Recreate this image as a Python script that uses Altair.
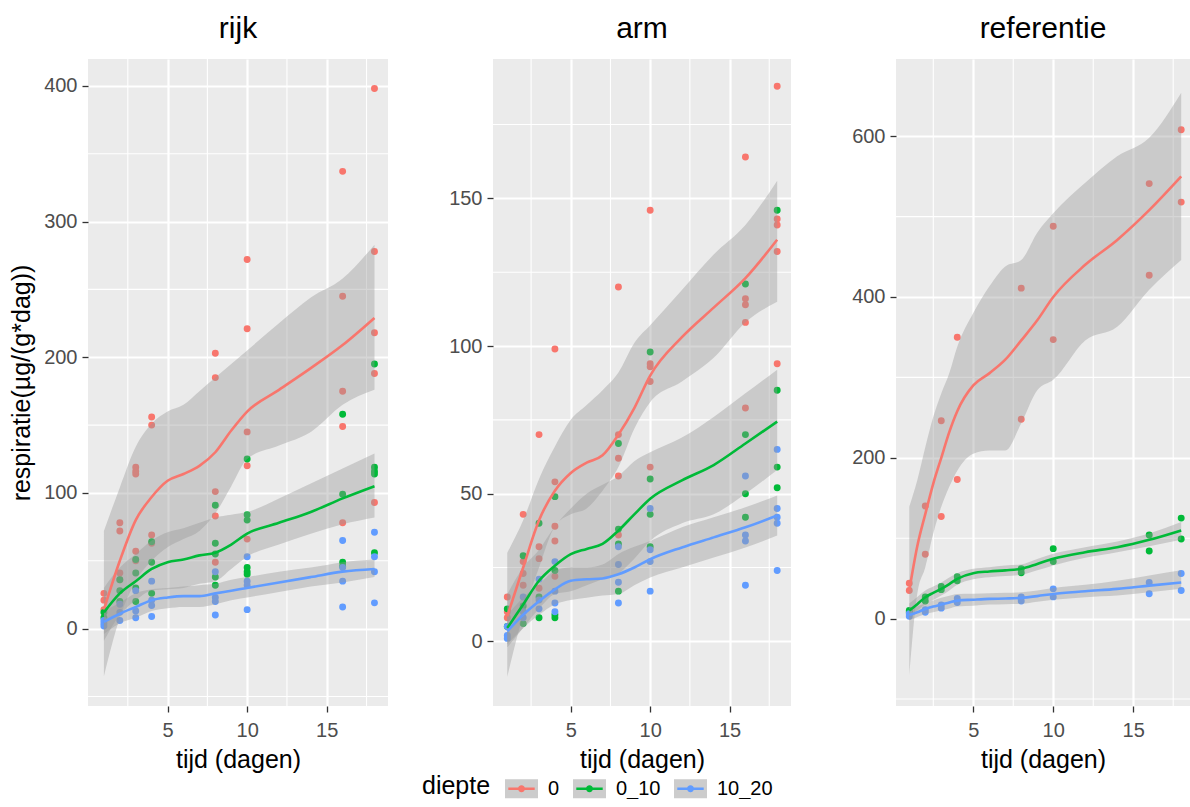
import altair as alt
import pandas as pd

FONT = "Liberation Sans"
TIMES = [1, 2, 3, 4, 8, 10, 16, 18]
DEPTHS = ["0", "0_10", "10_20"]
COLORS = ["#F8766D", "#00BA38", "#619CFF"]
X_TICKS = [5, 10, 15]
X_MINOR = [2.5, 7.5, 12.5, 17.5]

# ---- measured points (one list per time in TIMES) ----
RIJK_0 = [[26, 21, 14], [78, 72, 41, 36], [119, 116, 114, 57, 50], [156, 150, 69, 63],
          [203, 185, 101, 83, 49], [272, 221, 145, 120, 66], [337, 245, 175, 149, 78],
          [398, 278, 218, 188, 93]]
RIJK_0_10 = [[12, 8], [36, 28, 20], [51, 41, 30, 20], [64, 49, 26], [91, 63, 55, 38, 32],
             [125, 84, 80, 45, 42, 40], [158, 99, 49, 46], [195, 119, 116, 114, 56]]
RIJK_10_20 = [[6, 4, 2], [18, 12, 6], [28, 13, 8], [35, 21, 17, 9], [42, 23, 20, 10],
              [53, 35, 32, 14], [65, 45, 35, 16], [71, 53, 42, 19]]

ARM_0 = [[15, 10, 8], [43, 27, 23, 19], [70, 32, 28, 18], [99, 54, 39, 34, 22],
         [120, 70, 62, 56, 36], [146, 94, 93, 88, 59], [164, 116, 114, 108, 79],
         [188, 143, 141, 132, 94]]
ARM_0_10 = [[11, 5], [29, 12, 6], [40, 15, 8], [49, 24, 9, 8], [67, 38, 33, 17],
            [98, 55, 43, 32], [121, 70, 50, 42], [146, 85, 59, 52]]
ARM_10_20 = [[5, 2, 1], [15, 10, 8], [21, 14, 11], [27, 17, 13, 10], [32, 26, 20, 13],
             [45, 31, 27, 17], [56, 36, 34, 19], [65, 45, 42, 40, 24]]

REF_0 = [[44, 35], [140, 80], [246, 127], [350, 173], [411, 248], [488, 347], [541, 427], [608, 518]]
REF_0_10 = [[10, 8], [27, 22], [40, 36], [52, 47], [62, 57], [87, 71], [104, 84], [125, 99]]
REF_10_20 = [[6, 3], [11, 8], [17, 13], [25, 20], [27, 22], [37, 27], [45, 31], [56, 35]]

# ---- smoothed curves (fit, upper, lower) ----
GRID_A = [1, 2, 3, 4, 5, 6, 7, 8, 9, 10, 12, 14, 16, 18]
GRID_R = [1, 1.5, 2, 2.5, 3, 3.5, 4, 5, 6, 7, 8, 9, 10, 12, 14, 16, 18]

RIJK_FIT = [[14, 50, 80, 97, 109, 114, 120, 130, 146, 160, 176, 192, 209, 229],
            [12, 26, 35, 44, 49, 51, 54, 56, 62, 70, 78, 86, 96, 105],
            [5, 11, 16, 21, 23, 24, 24, 26, 28, 30, 34, 38, 42, 44]]
RIJK_HI = [[72, 104, 134, 151, 160, 165, 175, 185, 195, 205, 225, 244, 258, 283],
           [30, 45, 55, 65, 71, 74, 78, 82, 84, 86, 96, 107, 118, 129],
           [13, 19, 26, 29, 30, 31, 32, 33, 36, 38, 42, 45, 49, 51]]
RIJK_LO = [[-35, 8, 35, 50, 60, 66, 72, 85, 105, 125, 135, 145, 165, 176],
           [-9, 10, 21, 28, 29, 30, 33, 35, 44, 53, 62, 70, 77, 82],
           [-4, 4, 8, 13, 15, 16, 16, 18, 21, 23, 27, 31, 34, 38]]

ARM_FIT = [[8.5, 25, 41, 51, 57, 60.5, 63, 70, 79, 90, 103, 113, 123, 136],
           [4.5, 12.5, 20.5, 25.6, 29.5, 31.3, 33, 37.5, 43, 48.3, 54.5, 59.7, 67, 74.4],
           [3.4, 9, 13.6, 17.6, 20.5, 21, 21.3, 22.7, 25, 27.8, 31.8, 35.2, 38.6, 42.6]]
ARM_HI = [[30, 41, 55, 66, 75, 80, 85, 91, 101, 107, 119, 131, 141, 156],
          [16, 25, 31, 39, 45, 50, 53, 56, 61, 64, 69, 76, 84, 92],
          [9, 14.8, 19.3, 23.9, 25, 25, 26, 29.6, 32, 34, 38.6, 42, 45.4, 49.4]]
ARM_LO = [[-12, 9, 25, 39, 43, 45, 51, 59, 72, 81, 88, 96, 108, 115],
          [-2, 4.5, 11, 16, 17, 19, 21, 23, 28, 34, 40, 43, 50, 58],
          [-1, 4.5, 9, 12.5, 14, 14.8, 15.5, 16, 19, 21.6, 25, 28.4, 31.8, 35.8]]

REF_FIT = [[35, 90, 130, 168, 200, 232, 258, 290, 305, 322, 346, 371, 400, 440, 471, 508, 550],
           [10, 18, 26.6, 32, 37, 43, 49.5, 56.5, 58.6, 60, 62, 68, 74.4, 82.6, 88.8, 98, 109.7],
           [4.6, 8, 12, 15, 17.4, 20, 22.4, 23.5, 24.5, 25, 25.8, 28, 30.7, 34, 37, 41, 45]]
REF_HI = [[139, 172, 213, 251, 280, 305, 338, 380, 413, 438, 446, 480, 504, 542, 575, 598, 654],
          [18.7, 27, 35, 40, 45, 51, 56.5, 62, 64, 66, 67.3, 74, 80.6, 88.8, 96, 106, 120],
          [10.8, 15, 19, 22.5, 25.8, 28.5, 30.7, 31, 31.5, 32, 32.8, 35, 38, 42, 47, 53.6, 60]]
REF_LO = [[-71, 31, 64, 106, 139, 164, 184, 205, 209, 209, 243, 284, 297, 346, 363, 409, 446],
          [1.7, 10, 18, 23, 28.6, 35, 42, 49, 51.5, 53, 54.4, 60, 66, 75.6, 82.6, 90, 98],
          [-2.5, 2, 5.8, 8, 10, 12.5, 15, 16, 17.4, 18, 18.3, 21, 23.3, 26.6, 28.6, 32.8, 37]]


def points_frame(series):
    rows = []
    for depth, per_time in zip(DEPTHS, series):
        for t, vals in zip(TIMES, per_time):
            for v in vals:
                rows.append({"t": t, "v": v, "diepte": depth})
    return pd.DataFrame(rows)


def smooth_frame(grid, fits, his, los):
    rows = []
    for depth, f, h, l in zip(DEPTHS, fits, his, los):
        for t, a, b, c in zip(grid, f, h, l):
            rows.append({"t": t, "v": a, "hi": b, "lo": c, "diepte": depth, "band": depth})
    return pd.DataFrame(rows)


LINE_DOT = ("M-0.8,-0.075L0.8,-0.075L0.8,0.075L-0.8,0.075Z "
            "M0.21,0A0.21,0.21,0,1,1,-0.21,0A0.21,0.21,0,1,1,0.21,0Z")
BOX = "M-1,-0.58L1,-0.58L1,0.58L-1,0.58Z"

LEG_X = 334
LEG_Y = 713
common_leg = dict(orient="none", legendX=LEG_X, legendY=LEG_Y, direction="horizontal",
                  titleOrient="left", titleAnchor="end", titleBaseline="bottom",
                  titleFontSize=25, titleFontWeight="normal", titleFont=FONT, titleColor="black",
                  labelFontSize=20, labelFont=FONT, labelColor="black",
                  symbolSize=1089, labelOffset=10, columnPadding=13, titlePadding=14)
color_legend = alt.Legend(title="diepte", symbolType=LINE_DOT, symbolStrokeWidth=0,
                          zindex=1, **common_leg)
box_legend = alt.Legend(title="diepte", symbolType=BOX, symbolStrokeWidth=0,
                        symbolOpacity=0.5, labelOpacity=0, titleOpacity=0, zindex=0, **common_leg)

color_scale = alt.Scale(domain=DEPTHS, range=COLORS)
# domain left to the data so that this legend stays separate from the colour legend
fill_scale = alt.Scale(range=["#999999", "#999999", "#999999"])


def panel(title, pts, sm, xdom, ydom, yticks, yminor, width, ytitle):
    xs = alt.Scale(domain=xdom, nice=False, zero=False)
    ys = alt.Scale(domain=ydom, nice=False, zero=False)
    xax = alt.Axis(values=X_TICKS, title="tijd (dagen)", labelPadding=8, titlePadding=7)
    if ytitle:
        yax = alt.Axis(values=yticks, title=ytitle, labelPadding=5, titlePadding=9)
    else:
        yax = alt.Axis(values=yticks, title=None, labelPadding=5)

    xminor = alt.Chart(pd.DataFrame({"t": X_MINOR})).mark_rule(
        color="white", strokeWidth=1.1, clip=True).encode(x=alt.X("t:Q", scale=xs, axis=xax))
    yminor_l = alt.Chart(pd.DataFrame({"v": yminor})).mark_rule(
        color="white", strokeWidth=1.1, clip=True).encode(y=alt.Y("v:Q", scale=ys, axis=yax))
    points = alt.Chart(pts).mark_circle(size=48, opacity=1, clip=True).encode(
        x=alt.X("t:Q", scale=xs, axis=xax),
        y=alt.Y("v:Q", scale=ys, axis=yax),
        color=alt.Color("diepte:N", scale=color_scale, legend=color_legend))
    band = alt.Chart(sm).mark_area(opacity=0.4, interpolate="monotone", clip=True).encode(
        x=alt.X("t:Q", scale=xs, axis=xax),
        y=alt.Y("lo:Q", scale=ys, axis=yax),
        y2="hi:Q",
        fill=alt.Fill("band:N", scale=fill_scale, legend=box_legend))
    line = alt.Chart(sm).mark_line(strokeWidth=2.6, interpolate="monotone", clip=True).encode(
        x=alt.X("t:Q", scale=xs, axis=xax),
        y=alt.Y("v:Q", scale=ys, axis=yax),
        color=alt.Color("diepte:N", scale=color_scale, legend=None))
    return alt.layer(xminor, yminor_l, points, band, line).properties(
        width=width, height=647, title=alt.TitleParams(title))


p1 = panel("rijk", points_frame([RIJK_0, RIJK_0_10, RIJK_10_20]),
           smooth_frame(GRID_A, RIJK_FIT, RIJK_HI, RIJK_LO),
           [0.0, 18.85], [-57, 419.8], [0, 100, 200, 300, 400], [-50, 50, 150, 250, 350],
           300, "respiratie(µg/(g*dag))")
p2 = panel("arm", points_frame([ARM_0, ARM_0_10, ARM_10_20]),
           smooth_frame(GRID_A, ARM_FIT, ARM_HI, ARM_LO),
           [0.1, 18.87], [-21.9, 197.2], [0, 50, 100, 150], [25, 75, 125, 175],
           298, None)
p3 = panel("referentie", points_frame([REF_0, REF_0_10, REF_10_20]),
           smooth_frame(GRID_R, REF_FIT, REF_HI, REF_LO),
           [0.17, 18.55], [-108.7, 696], [0, 200, 400, 600], [-100, 100, 300, 500],
           294, None)

chart = alt.hconcat(p1, p2, p3, spacing=60).properties(
    padding={"left": 9, "top": 14, "right": 0, "bottom": 0}
).configure_view(fill="#EBEBEB", strokeWidth=0).configure_axis(
    labelFont=FONT, labelFontSize=20, labelColor="#4D4D4D",
    titleFont=FONT, titleFontSize=25, titleColor="black", titleFontWeight="normal",
    tickColor="#333333", tickSize=6, tickWidth=1.3, domain=False,
    grid=True, gridColor="white", gridWidth=2.2
).configure_title(
    font=FONT, fontSize=30, fontWeight="normal", color="black", anchor="middle",
    baseline="alphabetic", offset=15
)

chart.save("out.html", embed_options={"renderer": "svg", "actions": False})
